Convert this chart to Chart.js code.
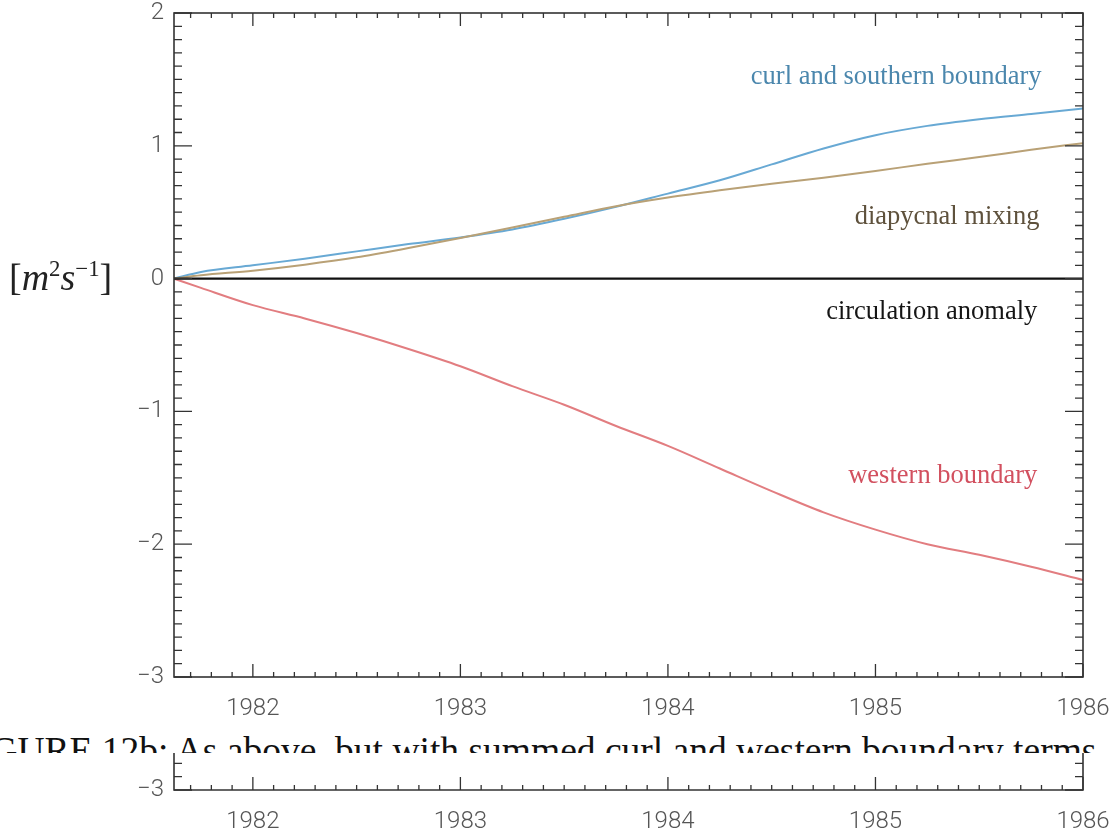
<!DOCTYPE html>
<html>
<head>
<meta charset="utf-8">
<script src="https://cdn.jsdelivr.net/npm/chart.js@4.4.1/dist/chart.umd.min.js"></script>
<style>
  html, body { margin: 0; padding: 0; background: #fff; }
  body { width: 1119px; height: 833px; position: relative; overflow: hidden; }
  #main { position: absolute; left: 0; top: 0; }
  #ytitle { position: absolute; left: 9px; top: 255px; font: 38px "Liberation Serif", "Times New Roman", serif; color: #222; white-space: nowrap; }
  #ytitle sup { font-size: 60%; vertical-align: 0.62em; line-height: 0; }
  #caption { position: absolute; left: -43px; top: 732px; font: 37.5px "Liberation Serif", "Times New Roman", serif; line-height: 37.5px; white-space: nowrap; color: #111; }
  #strip { position: absolute; left: 0; top: 753px; background: #fff; }
</style>
</head>
<body>
<canvas id="main" width="1119" height="730"></canvas>
<div id="ytitle">[<i>m</i><sup>2</sup><i>s</i><sup>−1</sup>]</div>
<div id="caption">FIGURE 12b: As above, but with summed curl and western boundary terms</div>
<canvas id="strip" width="1119" height="80"></canvas>
<script>
// values
var years = [1981.62, 1981.75, 1982, 1982.25, 1982.5, 1982.75, 1983, 1983.25, 1983.5, 1983.75,
             1984, 1984.25, 1984.5, 1984.75, 1985, 1985.25, 1985.5, 1985.75, 1986];
var curlSouthern = [0, 0.05, 0.10, 0.15, 0.205, 0.26, 0.31, 0.37, 0.45, 0.54,
                    0.64, 0.74, 0.86, 0.98, 1.08, 1.15, 1.20, 1.24, 1.28];
var diapycnal = [0, 0.025, 0.06, 0.105, 0.16, 0.23, 0.305, 0.385, 0.465, 0.545,
                 0.61, 0.665, 0.715, 0.76, 0.81, 0.865, 0.915, 0.97, 1.02];
var circulation = [0, 0, 0, 0, 0, 0, 0, 0, 0, 0, 0, 0, 0, 0, 0, 0, 0, 0, 0];
var western = [0, -0.07, -0.20, -0.30, -0.41, -0.53, -0.66, -0.81, -0.95, -1.11,
               -1.26, -1.43, -1.60, -1.76, -1.89, -2.00, -2.08, -2.17, -2.27];

var xTicks = [1982, 1983, 1984, 1985, 1986];
var yTicks = [-3, -2, -1, 0, 1, 2];
var stripTicks = [-3];

// text labels placed in data units (right edge, middle)
var labels = [
  { text: "curl and southern boundary", x: 1985.80, y: 1.52, color: "#4b87ad" },
  { text: "diapycnal mixing", x: 1985.79, y: 0.46, color: "#5e513c" },
  { text: "circulation anomaly", x: 1985.78, y: -0.25, color: "#151515" },
  { text: "western boundary", x: 1985.78, y: -1.49, color: "#d2505f" }
];

function pts(vals) {
  return years.map(function (x, i) { return { x: x, y: vals[i] }; });
}

function minus(v) {
  return v < 0 ? "\u2212" + Math.abs(v) : String(v);
}

var tickFont = { family: "Roboto, 'Liberation Sans', sans-serif", size: 24, weight: 300 };

// inward tick marks and frame, IDL style
var frame = {
  id: "frame",
  afterDatasetsDraw: function (chart, args, opts) {
    var ctx = chart.ctx, a = chart.chartArea;
    var x = chart.scales.x, y = chart.scales.y;
    ctx.save();
    ctx.strokeStyle = "#333";
    ctx.lineWidth = 1.3;
    ctx.beginPath();
    for (var i = Math.ceil(x.min * 10 - 1e-6); i <= Math.floor(x.max * 10 + 1e-6); i++) {
      var px = x.getPixelForValue(i / 10);
      var len = i % 10 === 0 ? 13 : 5;
      ctx.moveTo(px, a.bottom); ctx.lineTo(px, a.bottom - len);
      if (opts.top) { ctx.moveTo(px, a.top); ctx.lineTo(px, a.top + len); }
    }
    for (var j = Math.ceil(y.min * 10 - 1e-6); j <= Math.floor(y.max * 10 + 1e-6); j++) {
      var py = y.getPixelForValue(j / 10);
      var l2 = j % 10 === 0 ? 18 : 8;
      ctx.moveTo(a.left, py); ctx.lineTo(a.left + l2, py);
      ctx.moveTo(a.right, py); ctx.lineTo(a.right - l2, py);
    }
    ctx.stroke();
    ctx.lineWidth = 1.6;
    ctx.beginPath();
    if (opts.top) {
      ctx.strokeRect(a.left, a.top, a.right - a.left, a.bottom - a.top);
    } else {
      ctx.moveTo(a.left, a.top); ctx.lineTo(a.left, a.bottom);
      ctx.lineTo(a.right, a.bottom); ctx.lineTo(a.right, a.top);
      ctx.stroke();
    }
    ctx.restore();
  }
};

var curveLabels = {
  id: "curveLabels",
  afterDatasetsDraw: function (chart, args, opts) {
    if (!opts.items) return;
    var ctx = chart.ctx;
    ctx.save();
    ctx.font = "26.5px 'Liberation Serif', 'Times New Roman', serif";
    ctx.textAlign = "right";
    ctx.textBaseline = "middle";
    opts.items.forEach(function (l) {
      ctx.fillStyle = l.color;
      ctx.fillText(l.text, chart.scales.x.getPixelForValue(l.x), chart.scales.y.getPixelForValue(l.y));
    });
    ctx.restore();
  }
};

function xAxis(h) {
  return {
    type: "linear",
    min: years[0],
    max: years[years.length - 1],
    grid: { display: false, drawTicks: false },
    border: { display: false },
    afterBuildTicks: function (s) { s.ticks = xTicks.map(function (v) { return { value: v }; }); },
    afterFit: function (s) { s.height = h; s.paddingLeft = 0; s.paddingRight = 0; },
    ticks: { color: "#555", font: tickFont, padding: 18, maxRotation: 0, callback: function (v) { return String(v); } }
  };
}

function yAxis(min, max, list) {
  return {
    min: min,
    max: max,
    grid: { display: false, drawTicks: false },
    border: { display: false },
    afterBuildTicks: function (s) { s.ticks = list.map(function (v) { return { value: v }; }); },
    afterFit: function (s) { s.width = 174; s.paddingTop = 0; s.paddingBottom = 0; },
    ticks: { color: "#555", font: tickFont, padding: 10, callback: function (v) { return minus(v); } }
  };
}

var lineStyle = { borderWidth: 2, pointRadius: 0, fill: false, cubicInterpolationMode: "monotone" };

new Chart(document.getElementById("main"), {
  type: "line",
  data: {
    datasets: [
      Object.assign({ label: "circulation anomaly", data: pts(circulation), borderColor: "#111" }, lineStyle, { borderWidth: 2.2 }),
      Object.assign({ label: "western boundary", data: pts(western), borderColor: "#e27d80" }, lineStyle),
      Object.assign({ label: "diapycnal mixing", data: pts(diapycnal), borderColor: "#b9a176" }, lineStyle),
      Object.assign({ label: "curl and southern boundary", data: pts(curlSouthern), borderColor: "#68a9d4" }, lineStyle)
    ]
  },
  options: {
    responsive: false,
    animation: false,
    layout: { padding: { top: 13, right: 36, left: 0, bottom: 0 } },
    plugins: {
      legend: { display: false },
      tooltip: { enabled: false },
      frame: { top: true },
      curveLabels: { items: labels }
    },
    scales: { x: xAxis(53), y: yAxis(-3, 2, yTicks) }
  },
  plugins: [frame, curveLabels]
});

// repeated bottom strip of the scan
new Chart(document.getElementById("strip"), {
  type: "line",
  data: { datasets: [] },
  options: {
    responsive: false,
    animation: false,
    layout: { padding: { top: 0, right: 36, left: 0, bottom: 0 } },
    plugins: { legend: { display: false }, tooltip: { enabled: false }, frame: { top: false } },
    scales: { x: xAxis(43), y: yAxis(-3, -3 + 37 / 132.8, stripTicks) }
  },
  plugins: [frame]
});
</script>
</body>
</html>
